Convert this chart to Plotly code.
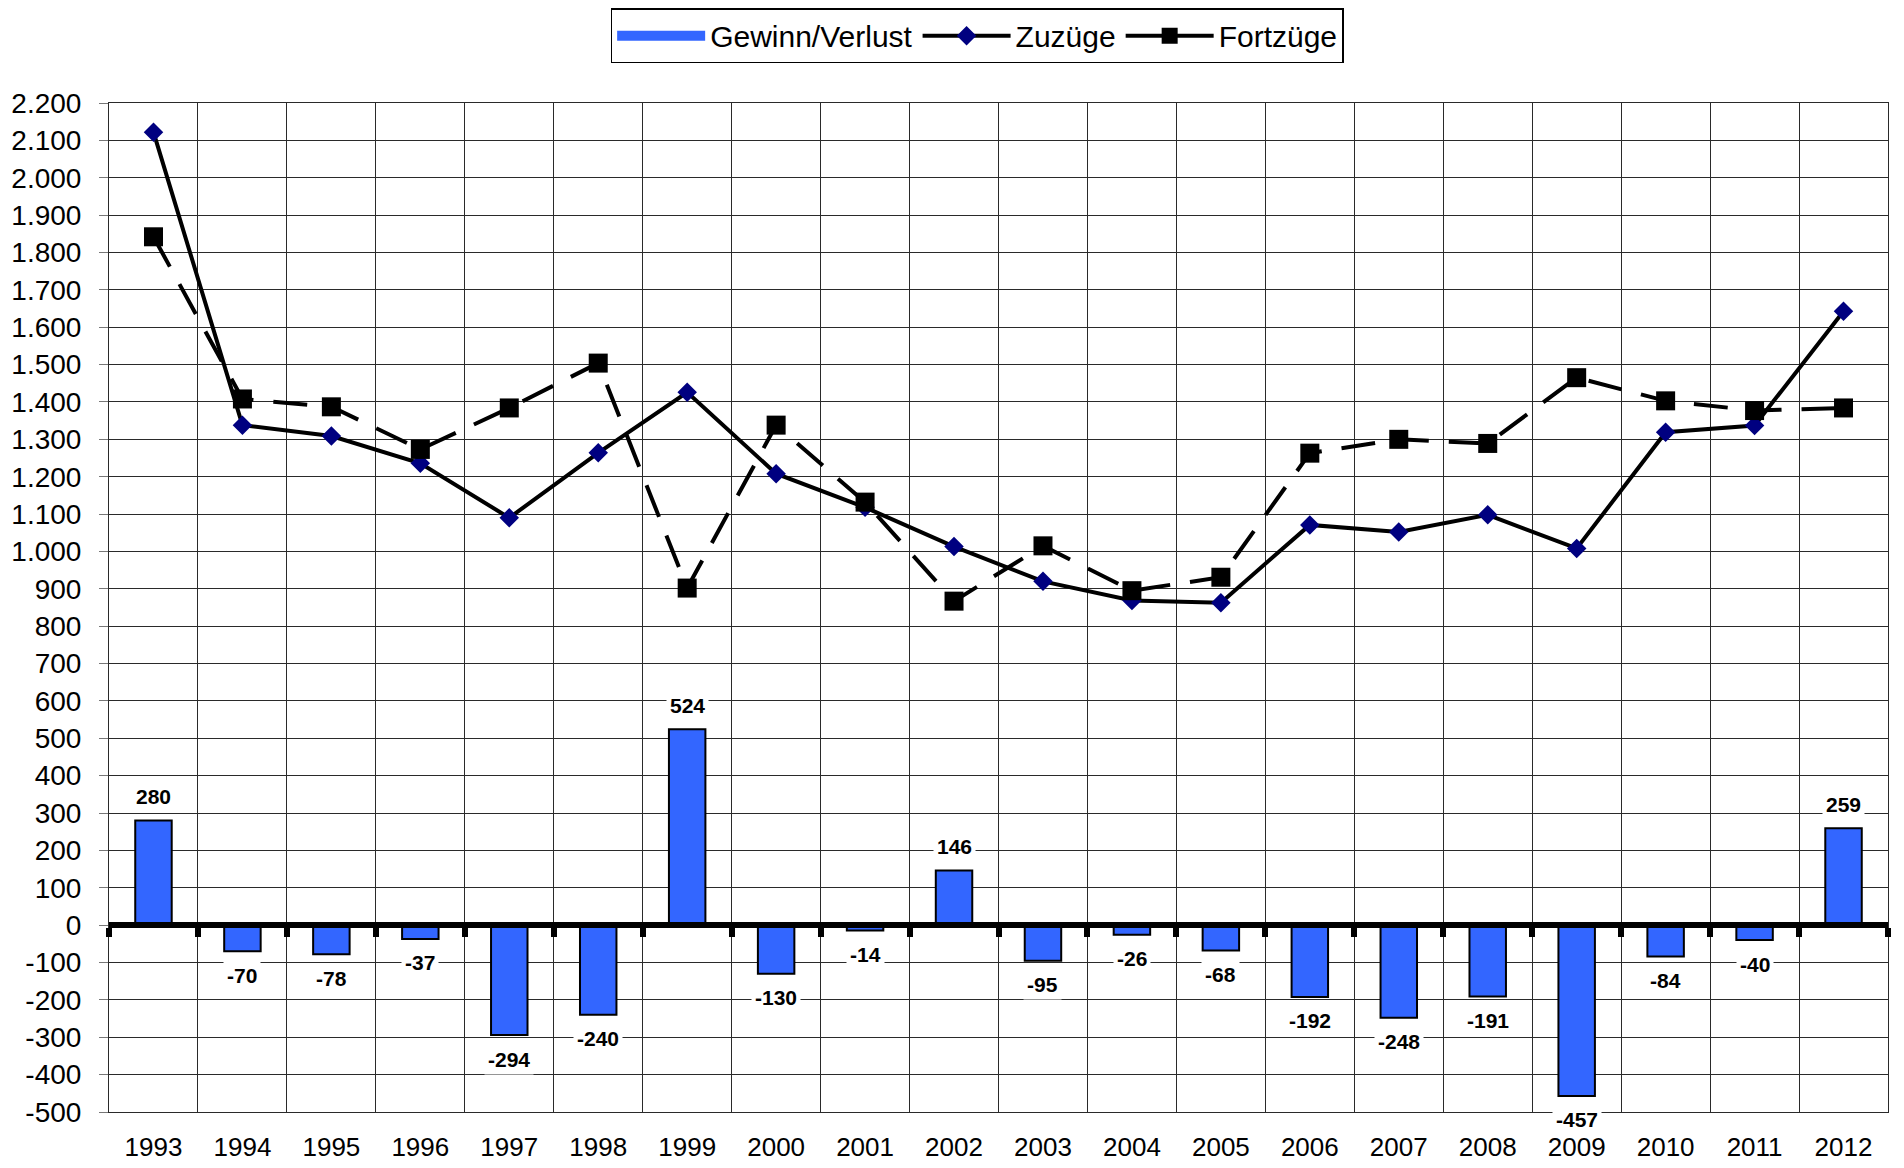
import plotly.graph_objects as go

years = [str(y) for y in range(1993, 2013)]
gewinn = [280, -70, -78, -37, -294, -240, 524, -130, -14, 146,
          -95, -26, -68, -192, -248, -191, -457, -84, -40, 259]
zuzuege = [2122, 1338, 1309, 1236, 1090, 1264, 1426, 1208, 1118, 1013,
           920, 869, 863, 1071, 1052, 1098, 1008, 1319, 1337, 1643]
fortzuege = [1842, 1408, 1387, 1273, 1384, 1504, 902, 1338, 1132, 867,
             1015, 895, 931, 1263, 1300, 1289, 1465, 1403, 1377, 1384]
y_ticks = list(range(-500, 2201, 100))
y_labels = [f"{v:,}".replace(",", ".") for v in y_ticks]

FONT = "Liberation Sans, Arial, sans-serif"
GRID = "#2a2a2a"
BLUE = "#3366FF"
y_min, y_max = -500, 2200

fig = go.Figure()
fig.add_trace(go.Bar(
    x=years, y=gewinn, name="Gewinn/Verlust", width=0.41, showlegend=False,
    marker=dict(color=BLUE, line=dict(color="black", width=2)),
))
fig.add_trace(go.Scatter(
    x=years, y=zuzuege, name="Zuzüge", mode="lines+markers", showlegend=False,
    line=dict(color="black", width=4),
    marker=dict(symbol="diamond", size=15, color="#000080"),
))
fig.add_trace(go.Scatter(
    x=years, y=fortzuege, name="Fortzüge", mode="lines+markers", showlegend=False,
    line=dict(color="black", width=4, dash="34px,20px"),
    marker=dict(symbol="square", size=19, color="black"),
))
# legend-only entries (wide block for bars, solid line for Fortzüge like the original)
fig.add_trace(go.Scatter(
    x=[years[0]], y=[None], name="Gewinn/Verlust", mode="lines",
    line=dict(color=BLUE, width=20),
))
fig.add_trace(go.Scatter(
    x=[years[0]], y=[None], name="Zuzüge", mode="lines+markers",
    line=dict(color="black", width=4),
    marker=dict(symbol="diamond", size=15, color="#000080"),
))
fig.add_trace(go.Scatter(
    x=[years[0]], y=[None], name="Fortzüge", mode="lines+markers",
    line=dict(color="black", width=4),
    marker=dict(symbol="square", size=19, color="black"),
))
# invisible trace so the zero axis (x2) gets drawn
fig.add_trace(go.Scatter(
    x=years, y=gewinn, xaxis="x2", mode="markers",
    marker=dict(opacity=0), showlegend=False, hoverinfo="skip",
))

# value labels with white box
for i, v in enumerate(gewinn):
    fig.add_annotation(
        x=i, y=v, xref="x", yref="y", text=f"<b>{v}</b>", showarrow=False,
        yshift=24 if v > 0 else -24,
        font=dict(family=FONT, size=21, color="black"),
        bgcolor="white", borderpad=3,
    )

fig.update_layout(
    width=1904, height=1168,
    margin=dict(l=101, r=24, t=95, b=64, autoexpand=False),
    paper_bgcolor="white", plot_bgcolor="white",
    font=dict(family=FONT, size=26, color="black"),
    showlegend=True,
    legend=dict(
        orientation="h", x=0.488, xanchor="center", y=1.094, yanchor="top",
        bordercolor="black", borderwidth=1.5, bgcolor="white",
        font=dict(family=FONT, size=30), itemwidth=88,
        traceorder="normal", tracegroupgap=0,
    ),
    xaxis=dict(
        type="category", range=[-0.5, 19.5], tickson="boundaries",
        showgrid=True, gridcolor=GRID, gridwidth=1, ticks="",
        showline=True, linecolor=GRID, linewidth=1, mirror=True,
        tickfont=dict(family=FONT, size=26), ticklabelstandoff=12,
    ),
    xaxis2=dict(
        type="category", overlaying="x", anchor="free",
        position=(0 - y_min) / (y_max - y_min), side="bottom",
        range=[-0.5, 19.5], tickson="boundaries",
        ticks="outside", ticklen=9, tickwidth=6, tickcolor="black",
        showline=True, linecolor="black", linewidth=6,
        showticklabels=False, showgrid=False,
    ),
    yaxis=dict(
        range=[y_min, y_max], tickmode="array", tickvals=y_ticks, ticktext=y_labels,
        showgrid=True, gridcolor=GRID, gridwidth=1, zeroline=False,
        ticks="outside", ticklen=9, tickcolor="#777", ticklabelstandoff=12,
        showline=True, linecolor=GRID, linewidth=1, mirror=True,
        tickfont=dict(family=FONT, size=28),
    ),
)

fig.write_html("out.html")
